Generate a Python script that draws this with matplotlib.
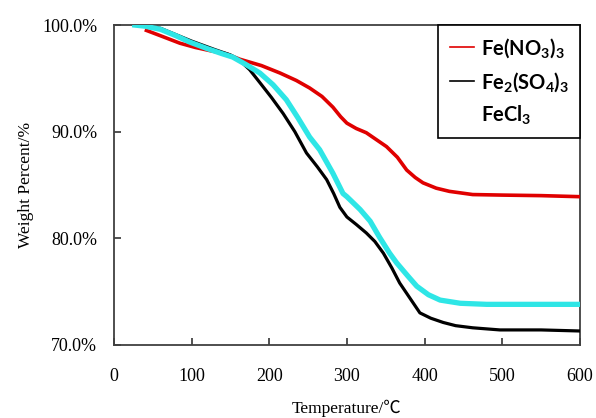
import numpy as np
import matplotlib.pyplot as plt
from matplotlib.lines import Line2D

# Fe(NO3)3
t_red = [42, 60, 85, 105, 124, 145, 162, 190, 214, 235, 252, 268, 282, 292, 300, 312, 325, 351, 365,
         377, 388, 398, 415, 432, 462, 500, 550, 600]
w_red = [99.5, 99.0, 98.3, 97.9, 97.6, 97.3, 96.8, 96.2, 95.5, 94.8, 94.1, 93.3, 92.3, 91.4, 90.8,
         90.3, 89.9, 88.6, 87.6, 86.4, 85.7, 85.2, 84.7, 84.4, 84.1, 84.05, 84.0, 83.9]

# Fe2(SO4)3
t_blk = [30, 60, 100, 130, 150, 162, 175, 188, 203, 218, 233, 248, 262, 274, 283, 291, 300, 312,
         325, 336, 347, 358, 368, 381, 394, 408, 424, 440, 462, 497, 550, 600]
w_blk = [100, 99.7, 98.5, 97.7, 97.2, 96.7, 95.8, 94.6, 93.2, 91.7, 90.0, 88.0, 86.7, 85.5, 84.2,
         82.9, 82.0, 81.3, 80.5, 79.7, 78.6, 77.2, 75.8, 74.4, 73.0, 72.5, 72.1, 71.8, 71.6, 71.4,
         71.4, 71.3]

# FeCl3
t_cyn = [27, 40, 60, 80, 98, 120, 140, 153, 170, 188, 205, 222, 237, 252, 265, 282, 295, 300, 317,
         330, 342, 355, 364, 378, 390, 405, 420, 446, 480, 520, 560, 600]
w_cyn = [100, 99.9, 99.6, 99.0, 98.4, 97.8, 97.3, 97.0, 96.3, 95.5, 94.4, 93.0, 91.3, 89.5, 88.3,
         86.1, 84.2, 83.9, 82.7, 81.6, 80.1, 78.6, 77.7, 76.5, 75.5, 74.7, 74.2, 73.9, 73.8, 73.8,
         73.8, 73.8]

xticks = [0, 100, 200, 300, 400, 500, 600]
yticks = [70, 80, 90, 100]
ytick_labels = ['70.0%', '80.0%', '90.0%', '100.0%']

serif = ['Liberation Serif', 'Noto Sans CJK SC', 'DejaVu Sans']

fig = plt.figure(figsize=(5.96, 4.18), dpi=100)
ax = fig.add_axes([0.191, 0.175, 0.782, 0.765])

ax.plot(t_red, w_red, color='#e00000', lw=2.6, zorder=3)
ax.plot(t_blk, w_blk, color='black', lw=2.3, zorder=4)
ax.plot(t_cyn, w_cyn, color='#2ee6e6', lw=3.8, zorder=5)

ax.set_xlim(0, 600)
ax.set_ylim(70, 100)
tfont = dict(family=serif, size=13)
ax.set_xticks(xticks)
ax.set_xticklabels([str(v) for v in xticks], **tfont)
ax.set_yticks(yticks)
ax.set_yticklabels(ytick_labels, **tfont)
ax.tick_params(direction='in', length=5, width=1.2, color='#333333')
ax.tick_params(axis='x', pad=17)
ax.tick_params(axis='y', pad=12)
for s in ax.spines.values():
    s.set_color('#404040')
    s.set_linewidth(1.3)

ax.set_xlabel('Temperature/\u2103', fontsize=12.5, family=serif, labelpad=10)
ax.set_ylabel('Weight Percent/%', fontsize=12.5, family=serif, labelpad=6)

handles = [Line2D([], [], color='#e00000', lw=1.2),
           Line2D([], [], color='black', lw=1.2),
           Line2D([], [], color='none', lw=1.2)]
labels = ['Fe(NO$_\\mathregular{3}$)$_\\mathregular{3}$',
          'Fe$_\\mathregular{2}$(SO$_\\mathregular{4}$)$_\\mathregular{3}$',
          'FeCl$_\\mathregular{3}$']
leg = ax.legend(handles, labels, loc='upper right', bbox_to_anchor=(1, 1), borderaxespad=0,
                fancybox=False, framealpha=1, edgecolor='black', handlelength=1.2,
                handletextpad=0.35, labelspacing=0.5, borderpad=0.55,
                prop=dict(family='Lato', weight='bold', size=14.5))
leg.get_frame().set_linewidth(1.2)

fig.savefig('out.png', dpi=100)
